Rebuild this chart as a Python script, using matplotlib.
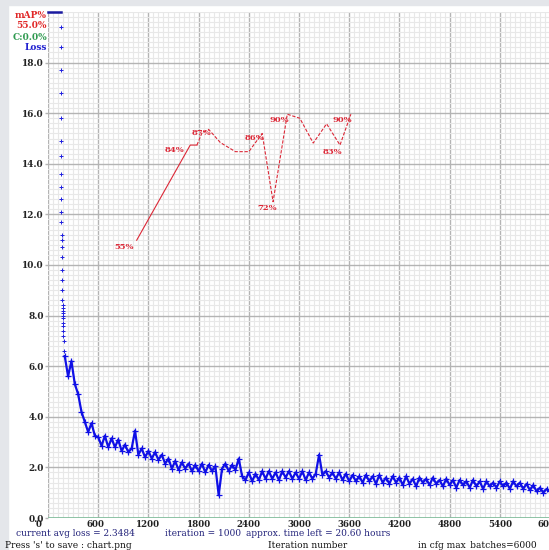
import matplotlib
matplotlib.use('Agg')
import matplotlib.pyplot as plt
import matplotlib.transforms as mtransforms
from matplotlib.patches import Rectangle
import numpy as np

# loss values above the chart top are clipped at 20 (first iterations)
top_iter = [0, 50, 100, 150]
top_loss = [20.0, 20.0, 20.0, 20.0]

# steep start of the loss curve
early_iter = [150, 150, 152, 152, 154, 154, 156, 156, 158, 158, 160, 160,
              162, 162, 164, 164, 166, 168, 170, 172, 174, 176, 178, 180, 184, 188,
              176, 180, 184, 178, 182, 186]
early_loss = [19.4, 18.6, 17.7, 16.8, 15.8, 14.9, 14.3, 13.6, 13.1, 12.6, 12.1, 11.7,
              11.2, 11.0, 10.7, 10.3, 9.8, 9.4, 9.0, 8.6, 8.4, 8.2, 8.0, 7.7, 7.2, 6.6,
              8.3, 8.1, 7.9, 7.6, 7.4, 7.0]

# rest of the loss curve, one value every 40 iterations from 200 to 6000
band_iter = np.arange(200, 6001, 40)
band_loss = [6.4, 5.6, 6.2, 5.3, 4.9, 4.2, 3.8, 3.4, 3.75, 3.25,
             3.2, 2.85, 3.25, 2.8, 3.15, 2.8, 3.1, 2.65, 2.9, 2.6,
             2.75, 3.45, 2.5, 2.75, 2.4, 2.65, 2.35, 2.6, 2.3, 2.5,
             2.15, 2.35, 1.95, 2.25, 1.9, 2.2, 1.95, 2.15, 1.85, 2.1,
             1.85, 2.15, 1.8, 2.1, 1.85, 2.05, 0.9, 1.95, 2.15, 1.85,
             2.1, 1.9, 2.35, 1.65, 1.5, 1.8, 1.45, 1.75, 1.5, 1.85,
             1.55, 1.85, 1.55, 1.8, 1.5, 1.85, 1.6, 1.85, 1.55, 1.8,
             1.55, 1.85, 1.5, 1.8, 1.55, 1.75, 2.5, 1.7, 1.85, 1.6,
             1.8, 1.55, 1.8, 1.5, 1.75, 1.45, 1.7, 1.45, 1.65, 1.4,
             1.7, 1.45, 1.65, 1.35, 1.7, 1.4, 1.6, 1.35, 1.65, 1.4,
             1.6, 1.3, 1.65, 1.35, 1.55, 1.25, 1.6, 1.4, 1.55, 1.3,
             1.6, 1.35, 1.5, 1.25, 1.55, 1.3, 1.5, 1.2, 1.5, 1.3,
             1.45, 1.2, 1.5, 1.25, 1.45, 1.15, 1.45, 1.25, 1.4, 1.2,
             1.45, 1.25, 1.4, 1.15, 1.45, 1.25, 1.4, 1.15, 1.35, 1.1,
             1.3, 1.05, 1.2, 1.0, 1.15, 1.05]

# mAP curve (percent)
map_iter = [1060, 1700, 1780, 1840, 1920, 2060, 2140, 2240, 2320, 2400,
            2560, 2690, 2860, 3010, 3170, 3330, 3490, 3620]
map_val = [54.9, 73.7, 73.7, 76.1, 76.8, 74.2, 73.4, 72.4, 72.4, 72.4,
           76.0, 62.5, 79.8, 79.0, 74.1, 77.9, 73.7, 79.8]
map_labels = ['55%', '84%', '87%', '86%', '72%', '90%', '83%', '90%']
label_idx = [0, 1, 4, 10, 11, 12, 16, 17]
label_off = [(-13, -7), (-16, -5), (-7, -4), (-8, -5), (-6, -6), (-8, -6), (-8, -7), (-9, -6)]

xticks = [0, 600, 1200, 1800, 2400, 3000, 3600, 4200, 4800, 5400, 6000]
yticks = [0, 2, 4, 6, 8, 10, 12, 14, 16, 18]

plt.rcParams['font.family'] = 'DejaVu Serif'

W, H = 549, 550
red = '#dc2837'
fig = plt.figure(figsize=(W / 100, H / 100), dpi=100)
fig.patch.set_facecolor('white')
fig.add_artist(Rectangle((0, 1 - 5 / H), 1, 5 / H, transform=fig.transFigure,
                         color='#e4e6ea', zorder=0))
fig.add_artist(Rectangle((0, 0), 8 / W, 1, transform=fig.transFigure,
                         color='#e4e6ea', zorder=0))

ax = fig.add_axes([48 / W, (H - 518) / H, (W + 1 - 48) / W, (518 - 12) / H])
ax.set_facecolor('none')
ax.set_xlim(0, 6000)
ax.set_ylim(0, 20)
ax.set_xticks(xticks)
ax.set_xticks(np.arange(0, 6001, 60), minor=True)
ax.set_yticks(yticks)
ax.set_yticks(np.arange(0, 20.01, 0.2), minor=True)
ax.set_yticklabels(['%.1f' % v for v in yticks])
ax.grid(which='minor', color='#e8e8e8', lw=0.8, zorder=0)
ax.grid(which='major', color='#b4b4b4', lw=1.0, zorder=0)
ax.set_axisbelow(True)
for s in ax.spines.values():
    s.set_visible(False)
ax.tick_params(axis='x', which='both', length=0, pad=1.5, labelsize=6.2, labelcolor='#222222')
ax.tick_params(axis='y', which='major', length=2, width=1, color='#b4b4b4', pad=1,
               labelsize=6.4, labelcolor='#222222')
ax.tick_params(axis='y', which='minor', length=0)
for lab in ax.get_xticklabels() + ax.get_yticklabels():
    lab.set_fontweight('bold')
shift = mtransforms.ScaledTranslation(-12 / 100, 0, fig.dpi_scale_trans)
for lab in ax.get_xticklabels():
    lab.set_horizontalalignment('left')
    lab.set_transform(lab.get_transform() + shift)

ax.axhline(0, color='#86c0a0', lw=1.3, zorder=3)

ax.plot(top_iter, top_loss, color='#1a1aa0', lw=1.8, clip_on=False, zorder=4)
ax.plot(early_iter, early_loss, ls='none', marker='+', ms=2.5, mew=0.7, color='#2020e0')
ax.plot(band_iter, band_loss, color='#1010e6', lw=1.6, marker='+', ms=4, mew=0.9)

ax2 = ax.twinx()
ax2.set_ylim(0, 100)
ax2.axis('off')
ax2.plot(map_iter[:3], map_val[:3], color=red, lw=0.8)
ax2.plot(map_iter[2:], map_val[2:], color=red, lw=0.8, dashes=(3, 1.5))
for txt, i, off in zip(map_labels, label_idx, label_off):
    ax2.annotate(txt, (map_iter[i], map_val[i]), xytext=off, textcoords='offset pixels',
                 ha='center', va='center', fontsize=6, color=red, fontweight='bold')

# legend-like labels at top left
fig.text(47 / W, 1 - 15 / H, 'mAP%', ha='right', va='center', fontsize=6.5, color='#e02828', fontweight='bold')
fig.text(47 / W, 1 - 26 / H, '55.0%', ha='right', va='center', fontsize=6.5, color='#e02828', fontweight='bold')
fig.text(47 / W, 1 - 37 / H, 'C:0.0%', ha='right', va='center', fontsize=6.5, color='#2f9a50', fontweight='bold')
fig.text(47 / W, 1 - 47 / H, 'Loss', ha='right', va='center', fontsize=6.5, color='#2020d0', fontweight='bold')

# status lines at the bottom
navy = '#22227a'
fs = 6.5
fig.text(16 / W, 1 - 534 / H, 'current avg loss = 2.3484', va='center', fontsize=fs, color=navy)
fig.text(165 / W, 1 - 534 / H, 'iteration = 1000', va='center', fontsize=fs, color=navy)
fig.text(246 / W, 1 - 534 / H, 'approx. time left = 20.60 hours', va='center', fontsize=fs, color=navy)
fig.text(5 / W, 1 - 545 / H, "Press 's' to save : chart.png", va='center', fontsize=fs, color='#111111')
fig.text(268 / W, 1 - 545 / H, 'Iteration number', va='center', fontsize=fs, color='#111111')
fig.text(418 / W, 1 - 545 / H, 'in cfg max_batches=6000', va='center', fontsize=fs, color='#111111')

fig.savefig('out.png', dpi=100)
